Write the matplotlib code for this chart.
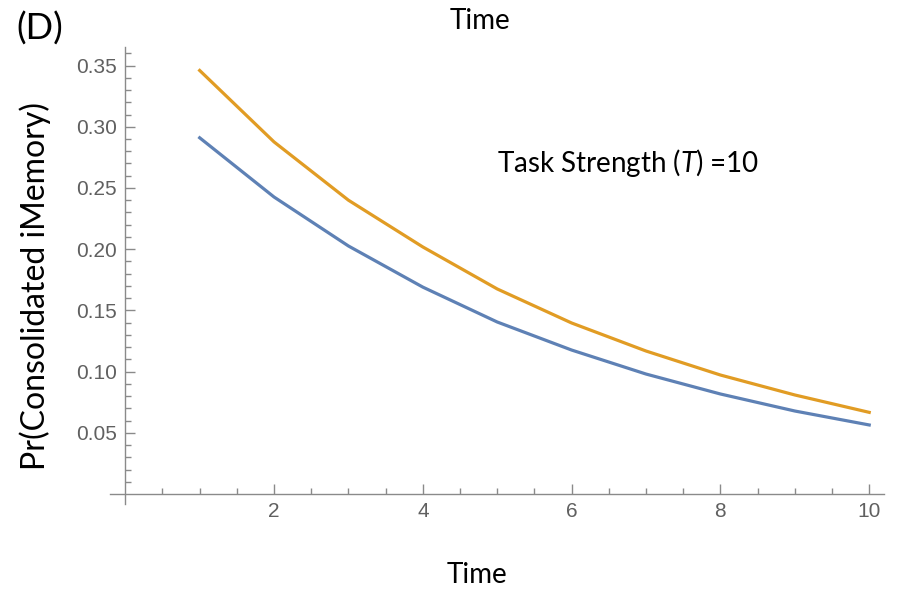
import numpy as np
import matplotlib.pyplot as plt

# values
time = [1, 2, 3, 4, 5, 6, 7, 8, 9, 10]
pr_blue = [0.291, 0.2426, 0.2026, 0.169, 0.1405, 0.1176, 0.098, 0.0817, 0.0678, 0.0564]
pr_orange = [0.346, 0.2876, 0.240, 0.2018, 0.1675, 0.1397, 0.1168, 0.0972, 0.0809, 0.0667]
y_ticks = [0.05, 0.10, 0.15, 0.20, 0.25, 0.30, 0.35]
x_ticks = [2, 4, 6, 8, 10]

plt.rcParams['mathtext.fontset'] = 'custom'
plt.rcParams['mathtext.rm'] = 'Lato'
plt.rcParams['mathtext.it'] = 'Lato:italic'

W, H = 902, 593
fig = plt.figure(figsize=(W / 100, H / 100), dpi=100)

# axes box in pixels (left, top, right, bottom)
left, top, right, bottom = 110.4, 47.2, 884.1, 503.8
ax = fig.add_axes([left / W, 1 - bottom / H, (right - left) / W, (bottom - top) / H])

ax.plot(time, pr_blue, color='#5E81B5', lw=2.3)
ax.plot(time, pr_orange, color='#E19C24', lw=2.3)

ax.set_xlim(-0.2, 10.2)
ax.set_ylim(-0.008, 0.365)

for s in ['top', 'right']:
    ax.spines[s].set_visible(False)
for s in ['left', 'bottom']:
    ax.spines[s].set_position(('data', 0))
    ax.spines[s].set_color('#8a8a8a')
    ax.spines[s].set_linewidth(1.0)

ax.set_xticks(x_ticks)
ax.set_xticks(np.arange(0.5, 10.01, 0.5), minor=True)
ax.set_yticks(y_ticks)
ax.set_yticklabels([f'{v:.2f}' for v in y_ticks])
ax.set_yticks(np.arange(0.01, 0.361, 0.01), minor=True)

ax.tick_params(which='both', direction='in', color='#8a8a8a', labelcolor='#606060',
               labelsize=15, width=1.0)
ax.tick_params(which='major', length=7, pad=6)
ax.tick_params(which='minor', length=4)
for lab in ax.get_xticklabels() + ax.get_yticklabels():
    lab.set_fontfamily('Liberation Sans')

txt_font = 'Lato'
ax.text(5.0, 0.270, 'Task Strength ($\\mathit{T}$) =10', fontsize=20,
        family=txt_font, va='center', ha='left')

fig.text(40 / W, 1 - 29 / H, '(D)', fontsize=26, family=txt_font, ha='center', va='center')
fig.text(480 / W, 1 - 21 / H, 'Time', fontsize=20, family=txt_font, ha='center', va='center')
fig.text(477 / W, 1 - 575 / H, 'Time', fontsize=20, family=txt_font, ha='center', va='center')
fig.text(35 / W, 1 - 286 / H, 'Pr(Consolidated iMemory)', fontsize=23, family=txt_font,
         ha='center', va='center', rotation=90)

fig.savefig('out.png', dpi=100)
